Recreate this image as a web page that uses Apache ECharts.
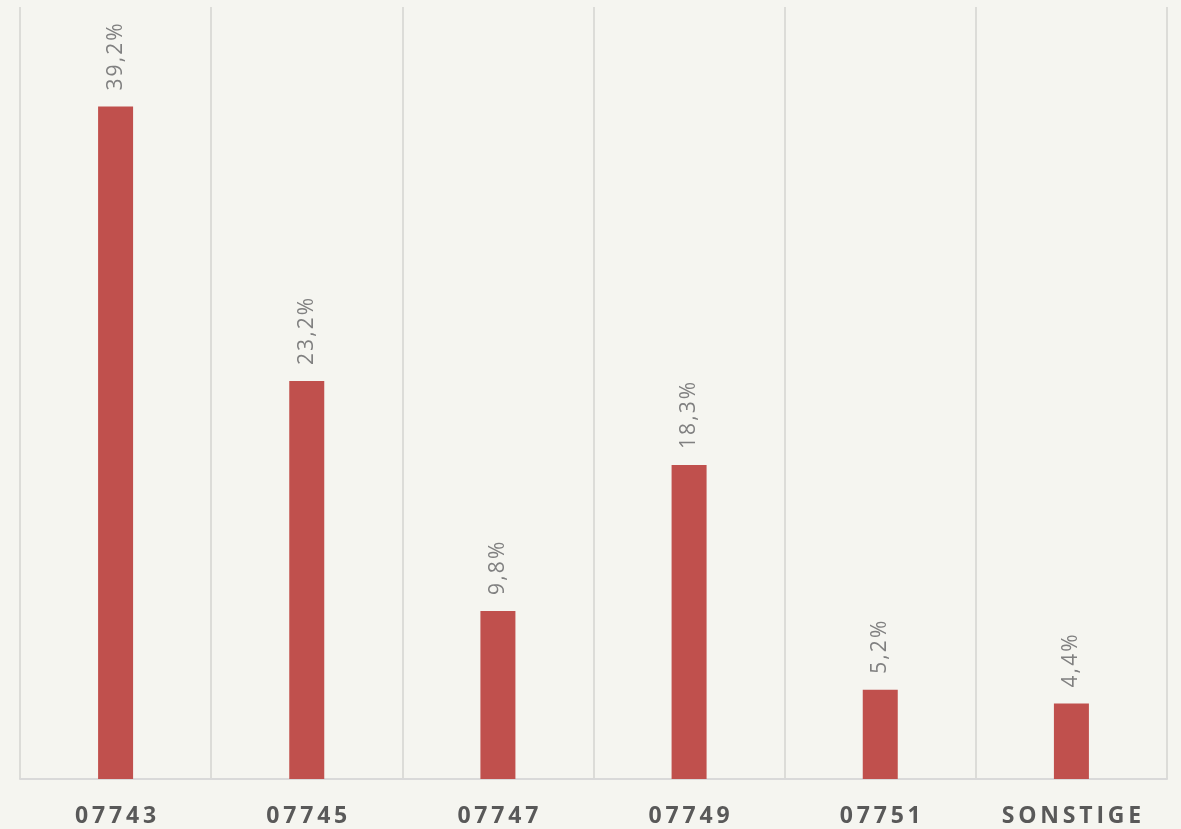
<!DOCTYPE html>
<html>
<head>
<meta charset="utf-8">
<script src="https://cdn.jsdelivr.net/npm/echarts@6/dist/echarts.min.js"></script>
<style>
  html, body { margin: 0; padding: 0; background: #f5f5f0; }
  #chart { width: 1181px; height: 829px; }
</style>
</head>
<body>
<div id="chart"></div>
<script>
// Postal-code areas and their share in percent
const categories = ['07743', '07745', '07747', '07749', '07751', 'SONSTIGE'];
const shares = [39.2, 23.2, 9.8, 18.3, 5.2, 4.4];

// Spread letters a little (tracked text)
const spaced = (s, gap) => s.split('').join(gap);

const chart = echarts.init(document.getElementById('chart'));
chart.setOption({
  backgroundColor: '#f5f5f0',
  animation: false,
  grid: { left: 20, right: 14, top: 7, bottom: 50 },
  xAxis: {
    type: 'category',
    data: categories,
    axisTick: { show: false },
    axisLine: { lineStyle: { color: '#d9d9d9', width: 2 } },
    splitLine: { show: true, lineStyle: { color: '#dcdcd8', width: 2 } },
    axisLabel: {
      color: '#595959',
      fontFamily: 'Open Sans',
      fontWeight: 'bold',
      fontSize: 23,
      margin: 26,
      formatter: v => spaced(v, '\u2009')
    }
  },
  yAxis: {
    type: 'value',
    min: 0,
    max: 45,
    show: false,
    splitLine: { show: false }
  },
  series: [{
    type: 'bar',
    data: shares,
    barWidth: 35,
    itemStyle: { color: '#c0504d' },
    label: {
      show: true,
      position: 'top',
      rotate: 90,
      align: 'left',
      verticalAlign: 'middle',
      distance: 16,
      color: '#808080',
      fontFamily: 'Open Sans',
      fontSize: 21,
      formatter: p => spaced(p.value.toFixed(1).replace('.', ',') + '%', '\u200A')
    }
  }]
});
</script>
</body>
</html>
